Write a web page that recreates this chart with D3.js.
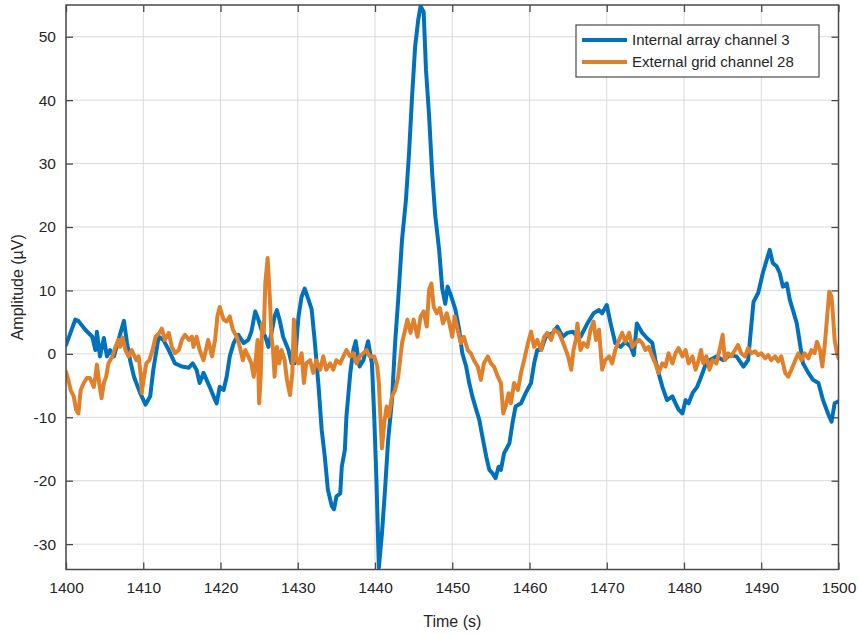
<!DOCTYPE html>
<html>
<head>
<meta charset="utf-8">
<script src="https://cdn.jsdelivr.net/npm/d3@7/dist/d3.min.js"></script>
<style>
  html, body { margin: 0; padding: 0; background: #fff; }
  svg { display: block; font-family: "Liberation Sans", Arial, sans-serif; }
</style>
</head>
<body>
<svg id="chart" width="859" height="634"></svg>
<script>
// Recording window and axis ticks
const timeTicks = [1400, 1410, 1420, 1430, 1440, 1450, 1460, 1470, 1480, 1490, 1500];
const ampTicks = [-30, -20, -10, 0, 10, 20, 30, 40, 50];
const seriesNames = ["Internal array channel 3", "External grid channel 28"];

// Internal array channel 3: [time (s), amplitude (µV)]
const internalCh3 = [
  [1400.0, 1.4], [1401.2, 5.4], [1401.6, 5.2], [1402.5, 3.8], [1403.4, 2.7], [1403.8, 0.6],
  [1404.0, 3.5], [1404.4, -0.4], [1404.9, 2.5], [1405.3, -0.4], [1405.7, 0.6], [1406.2, -0.4],
  [1406.8, 2.2], [1407.5, 5.2], [1407.9, 1.7], [1408.3, -1.0], [1408.8, -3.6], [1409.6, -6.2],
  [1410.3, -8.0], [1410.9, -6.7], [1411.3, -2.5], [1412.0, 2.7], [1412.6, 2.2], [1413.3, 0.6],
  [1414.1, -1.5], [1415.0, -2.0], [1415.9, -2.2], [1416.4, -1.5], [1416.9, -2.5], [1417.3, -4.6],
  [1417.8, -3.0], [1418.6, -5.2], [1419.1, -6.7], [1419.5, -7.8], [1419.9, -5.2], [1420.4, -5.7],
  [1420.8, -3.6], [1421.2, -0.4], [1421.7, 1.7], [1422.3, 3.0], [1423.0, 1.7], [1423.6, 2.2],
  [1424.0, 3.5], [1424.5, 6.7], [1424.9, 5.4], [1425.3, 3.8], [1425.8, 2.7], [1426.2, 1.1],
  [1426.6, 3.3], [1427.0, 5.9], [1427.3, 6.9], [1427.7, 5.1], [1428.1, 2.7], [1428.8, 0.6],
  [1429.2, -1.5], [1429.6, -1.5], [1430.1, 5.9], [1430.5, 9.0], [1430.9, 10.3], [1431.4, 8.5],
  [1431.8, 7.0], [1432.2, 2.0], [1432.7, -5.2], [1433.1, -12.0], [1433.5, -16.2], [1433.9, -21.4],
  [1434.4, -24.0], [1434.7, -24.5], [1435.0, -22.5], [1435.5, -22.0], [1435.7, -17.8], [1436.1, -15.1],
  [1436.3, -9.9], [1436.8, -3.0], [1437.2, 0.6], [1437.5, 2.0], [1438.0, -2.0], [1438.5, -1.0],
  [1439.1, 2.0], [1439.6, -1.5], [1439.9, -9.9], [1440.2, -20.4], [1440.5, -33.7], [1440.9, -28.3],
  [1441.3, -21.4], [1441.7, -13.6], [1442.2, -7.3], [1442.6, 1.7], [1443.0, 8.5], [1443.5, 18.0],
  [1444.0, 24.2], [1444.4, 31.5], [1444.8, 40.6], [1445.2, 48.5], [1445.6, 52.7], [1445.9, 54.8],
  [1446.3, 53.9], [1446.6, 44.8], [1447.0, 37.6], [1447.4, 28.5], [1447.8, 21.8], [1448.3, 16.4],
  [1448.7, 10.3], [1449.1, 7.9], [1449.4, 10.6], [1449.8, 9.3], [1450.4, 7.0], [1450.9, 3.8],
  [1451.3, 0.1], [1451.8, -2.0], [1452.2, -4.6], [1452.6, -6.7], [1453.1, -8.8], [1453.5, -10.4],
  [1453.9, -13.0], [1454.4, -16.2], [1454.8, -18.3], [1455.2, -18.8], [1455.6, -19.6], [1456.0, -17.8],
  [1456.3, -18.3], [1456.7, -15.7], [1457.4, -14.1], [1457.8, -10.9], [1458.2, -8.3], [1458.9, -7.8],
  [1459.5, -6.2], [1460.2, -4.6], [1460.6, -1.5], [1461.0, 0.6], [1461.5, 0.6], [1462.1, 2.7],
  [1463.0, 3.3], [1463.6, 4.3], [1464.3, 2.7], [1464.9, 3.3], [1465.6, 3.5], [1466.2, 2.7],
  [1466.6, 2.7], [1467.5, 4.8], [1468.3, 6.4], [1469.0, 6.9], [1469.4, 6.4], [1470.0, 7.7],
  [1470.5, 4.8], [1471.1, 1.7], [1471.8, 1.1], [1472.4, 1.9], [1473.1, 1.1], [1473.5, -0.2],
  [1473.9, 4.8], [1474.6, 3.3], [1475.2, 2.5], [1475.9, 1.7], [1476.3, -1.0], [1476.7, -3.0],
  [1477.2, -5.2], [1477.8, -7.3], [1478.5, -6.7], [1478.9, -7.8], [1479.3, -8.8], [1479.8, -9.4],
  [1480.2, -7.3], [1480.6, -7.8], [1481.1, -6.2], [1481.7, -5.2], [1482.1, -4.0], [1482.7, -2.0],
  [1483.3, -1.0], [1484.2, -0.4], [1485.1, -1.0], [1485.9, -0.2], [1486.8, -0.4], [1487.7, -2.0],
  [1488.3, -1.0], [1488.7, 4.3], [1489.0, 8.2], [1489.6, 9.6], [1490.2, 12.7], [1490.7, 14.8],
  [1491.1, 16.4], [1491.5, 14.3], [1492.0, 13.8], [1492.4, 12.7], [1492.8, 10.6], [1493.3, 11.1],
  [1493.7, 8.5], [1494.1, 6.9], [1494.6, 4.8], [1495.0, 1.7], [1495.4, -1.5], [1496.1, -3.0],
  [1496.7, -4.1], [1497.4, -4.6], [1498.0, -7.3], [1498.7, -9.6], [1499.1, -10.7], [1499.5, -7.8],
  [1500.0, -7.5]
];

// External grid channel 28: [time (s), amplitude (µV)]
const externalCh28 = [
  [1400.0, -2.8], [1400.3, -4.1], [1400.6, -5.7], [1401.0, -6.7], [1401.3, -8.8], [1401.6, -9.4],
  [1401.9, -5.7], [1402.3, -4.6], [1402.7, -3.8], [1403.1, -3.8], [1403.6, -5.2], [1403.8, -3.6],
  [1404.0, -1.7], [1404.3, -4.6], [1404.6, -7.0], [1404.9, -4.6], [1405.2, -3.6], [1405.5, -1.5],
  [1406.0, -0.4], [1406.4, 1.1], [1406.8, 2.2], [1407.0, 1.1], [1407.3, 2.6], [1407.7, 0.6],
  [1408.1, -0.4], [1408.5, 0.6], [1409.1, -1.0], [1409.4, -0.4], [1409.7, -3.6], [1409.8, -6.2],
  [1410.1, -3.6], [1410.4, -1.5], [1410.8, -1.0], [1411.2, 0.6], [1411.6, 2.7], [1412.1, 3.3],
  [1412.4, 4.0], [1412.8, 2.2], [1413.3, 3.3], [1413.7, 1.1], [1414.1, 0.1], [1414.6, 0.6],
  [1415.0, 2.2], [1415.4, 3.0], [1415.9, 2.2], [1416.3, 2.7], [1416.5, 1.1], [1416.9, 2.7],
  [1417.3, 0.6], [1417.8, -1.0], [1418.2, 1.1], [1418.4, 2.2], [1418.9, -0.4], [1419.3, 2.2],
  [1419.6, 5.9], [1419.9, 7.4], [1420.4, 5.4], [1420.8, 5.1], [1421.2, 5.9], [1421.6, 3.8],
  [1422.1, 2.7], [1422.5, 1.1], [1422.9, -1.0], [1423.2, 0.6], [1423.6, -0.4], [1424.0, -1.5],
  [1424.3, -3.6], [1424.6, -0.4], [1424.8, 2.2], [1425.0, -7.8], [1425.2, -3.6], [1425.4, 4.8],
  [1425.6, 3.3], [1425.8, 11.1], [1426.1, 15.1], [1426.4, 8.5], [1426.6, 2.7], [1426.8, 0.6],
  [1427.0, -3.6], [1427.3, 1.1], [1427.6, -1.5], [1427.9, 0.6], [1428.3, -1.0], [1428.6, -4.1],
  [1429.0, -6.5], [1429.3, -3.0], [1429.5, 5.4], [1429.8, -1.0], [1430.1, -1.5], [1430.5, 0.1],
  [1430.8, -4.6], [1431.1, -1.5], [1431.6, -1.0], [1432.0, -3.0], [1432.4, -1.0], [1432.9, -2.5],
  [1433.3, -0.4], [1433.7, -2.5], [1434.2, -1.5], [1434.6, -2.5], [1435.0, -1.0], [1435.5, -1.5],
  [1435.9, -0.4], [1436.3, 0.6], [1436.8, -0.4], [1437.2, 0.1], [1437.6, -1.5], [1438.0, -0.4],
  [1438.5, 0.1], [1438.9, 0.6], [1439.3, -0.4], [1439.9, -0.4], [1440.3, -2.0], [1440.5, -4.6],
  [1440.7, -9.9], [1440.9, -14.9], [1441.2, -10.9], [1441.5, -8.3], [1441.8, -9.9], [1442.2, -6.7],
  [1442.6, -5.7], [1443.0, -3.6], [1443.5, 1.7], [1443.9, 3.8], [1444.2, 5.4], [1444.6, 3.3],
  [1445.0, 5.4], [1445.5, 2.7], [1445.9, 5.9], [1446.3, 6.7], [1446.7, 4.3], [1447.0, 10.1],
  [1447.3, 11.1], [1447.6, 7.4], [1448.0, 6.4], [1448.4, 7.2], [1448.8, 4.8], [1449.3, 6.4],
  [1449.6, 5.0], [1450.0, 2.7], [1450.3, 5.9], [1450.7, 3.8], [1451.1, 1.7], [1451.5, 2.7],
  [1452.0, 0.6], [1452.4, 0.1], [1452.8, -1.0], [1453.3, -2.0], [1453.7, -4.1], [1454.1, -1.5],
  [1454.6, -0.4], [1455.0, -1.5], [1455.4, -2.0], [1455.9, -3.6], [1456.3, -4.6], [1456.6, -9.4],
  [1456.9, -8.3], [1457.3, -6.2], [1457.6, -7.8], [1458.0, -4.6], [1458.5, -5.7], [1458.9, -3.0],
  [1459.3, -1.0], [1459.8, 1.7], [1460.2, 3.5], [1460.6, 1.1], [1461.0, 2.2], [1461.5, 0.6],
  [1461.9, 2.7], [1462.3, 3.3], [1462.8, 2.2], [1463.2, 3.8], [1463.8, 3.3], [1464.3, 1.9],
  [1464.7, 0.6], [1465.0, -0.4], [1465.4, -2.5], [1465.7, 0.6], [1466.0, 2.2], [1466.2, 4.8],
  [1466.6, 0.6], [1467.0, 1.7], [1467.5, 1.1], [1467.9, 3.8], [1468.3, 5.1], [1468.6, 2.2],
  [1469.0, 3.8], [1469.4, -2.5], [1469.8, -1.0], [1470.3, -0.4], [1470.7, -1.5], [1471.1, 0.6],
  [1471.6, 2.2], [1472.0, 3.3], [1472.4, 1.9], [1472.9, 3.3], [1473.3, 1.1], [1473.7, 1.7],
  [1474.2, 2.2], [1474.6, 1.7], [1475.0, 0.6], [1475.4, 1.1], [1475.9, -0.4], [1476.3, -1.5],
  [1476.7, -3.0], [1477.2, -1.5], [1477.6, -2.0], [1478.0, 0.1], [1478.5, -1.5], [1478.9, 0.1],
  [1479.3, 0.9], [1479.8, -0.4], [1480.2, 0.6], [1480.6, -1.5], [1481.1, -0.4], [1481.5, -2.5],
  [1481.9, -1.0], [1482.2, 0.6], [1482.5, -1.5], [1482.9, -0.4], [1483.3, -2.5], [1483.7, -1.0],
  [1484.2, -1.5], [1484.6, 0.6], [1485.0, 3.0], [1485.3, -1.0], [1485.7, 0.1], [1486.1, -0.4],
  [1486.6, 0.6], [1487.0, 1.4], [1487.4, 0.1], [1487.9, -0.4], [1488.3, 0.9], [1488.7, 0.1],
  [1489.2, 0.4], [1489.6, -0.2], [1490.0, 0.1], [1490.5, -0.7], [1490.9, -0.2], [1491.3, -1.0],
  [1491.8, -0.4], [1492.2, -1.2], [1492.6, -0.4], [1493.1, -3.0], [1493.5, -3.6], [1493.9, -2.5],
  [1494.4, -1.0], [1494.8, 0.1], [1495.2, -1.0], [1495.6, 0.1], [1496.1, -0.7], [1496.5, 0.6],
  [1496.9, 0.1], [1497.2, 1.9], [1497.6, 0.6], [1497.9, -2.0], [1498.2, 1.1], [1498.5, 5.4],
  [1498.8, 9.8], [1499.1, 9.0], [1499.3, 5.9], [1499.5, 2.2], [1499.8, 0.1], [1500.0, -0.7]
];

const colors = ["#0072BD", "#E0802A"];

const svg = d3.select("#chart");
const margin = { left: 66, top: 5, right: 859 - 838.5, bottom: 634 - 569.5 };
const W = 859 - margin.left - margin.right;
const H = 634 - margin.top - margin.bottom;

const x = d3.scaleLinear().domain([1400, 1500]).range([0, W]);
const y = d3.scaleLinear().domain([-34, 55]).range([H, 0]);

const g = svg.append("g").attr("transform", `translate(${margin.left},${margin.top})`);

// Grid
g.append("g").selectAll("line").data(timeTicks).join("line")
  .attr("x1", d => x(d)).attr("x2", d => x(d)).attr("y1", 0).attr("y2", H)
  .attr("stroke", "#dadada").attr("stroke-width", 1);
g.append("g").selectAll("line").data(ampTicks).join("line")
  .attr("x1", 0).attr("x2", W).attr("y1", d => y(d)).attr("y2", d => y(d))
  .attr("stroke", "#dadada").attr("stroke-width", 1);

// Traces
g.append("clipPath").attr("id", "plotClip")
  .append("rect").attr("width", W).attr("height", H);

const line = d3.line().x(d => x(d[0])).y(d => y(d[1]));
const traces = [internalCh3, externalCh28];
g.append("g").attr("clip-path", "url(#plotClip)")
  .selectAll("path").data(traces).join("path")
  .attr("d", line)
  .attr("fill", "none")
  .attr("stroke", (d, i) => colors[i])
  .attr("stroke-width", 4)
  .attr("stroke-linejoin", "round")
  .attr("stroke-linecap", "round");

// Axes with inward ticks on all four sides
const tickColor = "#4a4a4a";
const textColor = "#262626";
const plainNumber = d => String(d);
function styleAxis(sel, showText) {
  sel.select(".domain").remove();
  sel.selectAll(".tick line").attr("stroke", tickColor).attr("stroke-width", 1.3);
  sel.selectAll(".tick text")
    .attr("fill", textColor)
    .style("font-size", "15.5px")
    .style("display", showText ? null : "none");
}

g.append("g").attr("transform", `translate(0,${H})`)
  .call(d3.axisBottom(x).tickValues(timeTicks).tickFormat(plainNumber).tickSize(-7).tickPadding(12))
  .call(s => styleAxis(s, true));
g.append("g")
  .call(d3.axisTop(x).tickValues(timeTicks).tickSize(-7))
  .call(s => styleAxis(s, false));
g.append("g")
  .call(d3.axisLeft(y).tickValues(ampTicks).tickFormat(plainNumber).tickSize(-7).tickPadding(10))
  .call(s => styleAxis(s, true));
g.append("g").attr("transform", `translate(${W},0)`)
  .call(d3.axisRight(y).tickValues(ampTicks).tickSize(-7))
  .call(s => styleAxis(s, false));

// Box
g.append("rect").attr("width", W).attr("height", H)
  .attr("fill", "none").attr("stroke", tickColor).attr("stroke-width", 1.5);

// Axis titles
svg.append("text")
  .attr("x", margin.left + W / 2).attr("y", 627)
  .attr("text-anchor", "middle")
  .attr("fill", textColor).style("font-size", "16px")
  .text("Time (s)");
svg.append("text")
  .attr("transform", `translate(23,${margin.top + H / 2}) rotate(-90)`)
  .attr("text-anchor", "middle")
  .attr("fill", textColor).style("font-size", "16px")
  .text("Amplitude (µV)");

// Legend
const legend = svg.append("g").attr("transform", "translate(576,25)");
legend.append("rect").attr("width", 243).attr("height", 52)
  .attr("fill", "#fff").attr("stroke", tickColor).attr("stroke-width", 1.2);
const rows = legend.selectAll("g.row").data(seriesNames).join("g")
  .attr("class", "row")
  .attr("transform", (d, i) => `translate(0,${15 + i * 22})`);
rows.append("line").attr("x1", 6).attr("x2", 51).attr("y1", 0).attr("y2", 0)
  .attr("stroke", (d, i) => colors[i]).attr("stroke-width", 4);
rows.append("text").attr("x", 56).attr("y", 0).attr("dy", "0.35em")
  .attr("fill", textColor).style("font-size", "15px")
  .text(d => d);
</script>
</body>
</html>
